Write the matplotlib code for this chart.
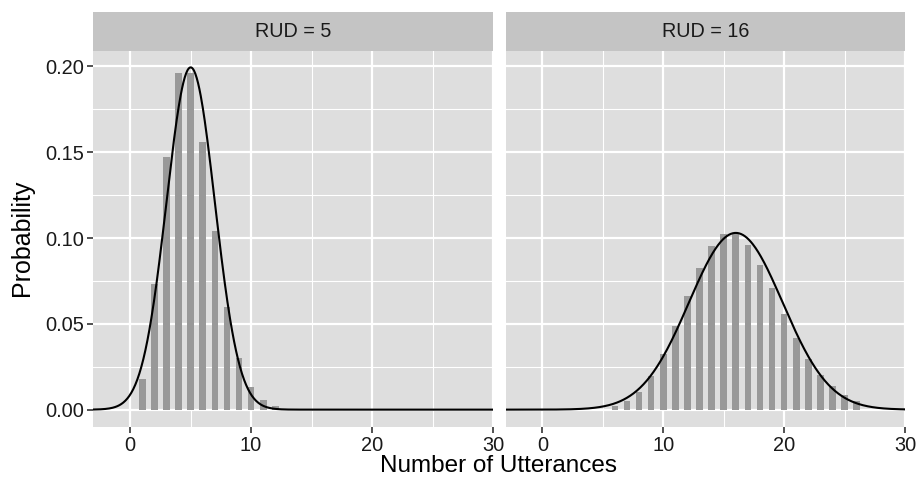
import numpy as np
import matplotlib
matplotlib.use("Agg")
import matplotlib.pyplot as plt
from matplotlib.ticker import MultipleLocator

plt.rcParams['font.family'] = ['Liberation Sans', 'DejaVu Sans']

# ---- data ----
panel_labels = ["RUD = 5", "RUD = 16"]
bars_x_5 = [1, 2, 3, 4, 5, 6, 7, 8, 9, 10, 11, 12]
bars_y_5 = [0.018, 0.073, 0.147, 0.196, 0.196, 0.156, 0.104, 0.060, 0.030, 0.013, 0.0055, 0.002]
bars_x_16 = [6, 7, 8, 9, 10, 11, 12, 13, 14, 15, 16, 17, 18, 19, 20, 21, 22, 23, 24, 25, 26]
bars_y_16 = [0.0019, 0.0048, 0.0105, 0.0194, 0.0325, 0.0486, 0.0663, 0.0826, 0.0954, 0.1022,
             0.1022, 0.0960, 0.0845, 0.0706, 0.0556, 0.0418, 0.0297, 0.0204, 0.0136, 0.0083, 0.0048]
curve_means = [5.0, 16.0]
curve_sds = [2.0, 3.873]
x_ticks = [0, 10, 20, 30]
y_ticks = [0.00, 0.05, 0.10, 0.15, 0.20]
y_tick_labels = ["0.00", "0.05", "0.10", "0.15", "0.20"]

bars_x = [bars_x_5, bars_x_16]
bars_y = [bars_y_5, bars_y_16]

W, H = 916, 484
fig = plt.figure(figsize=(W / 100, H / 100), dpi=100)

panel_bg = "#DEDEDE"
strip_bg = "#C4C4C4"
bar_col = "#999999"
txt_col = "#1a1a1a"

xlim = (-3.05, 30.0)
ylim = (-0.00995, 0.2092)

panels = [(93.3, 493.0), (505.5, 905.0)]
py0, py1 = 426.7, 50.7
sy0, sy1 = 50.7, 11.7

xs = np.linspace(xlim[0], xlim[1], 600)

for i, (px0, px1) in enumerate(panels):
    ax = fig.add_axes([px0 / W, 1 - py0 / H, (px1 - px0) / W, (py0 - py1) / H])
    ax.set_facecolor(panel_bg)
    ax.set_xlim(*xlim)
    ax.set_ylim(*ylim)
    ax.xaxis.set_major_locator(MultipleLocator(10))
    ax.xaxis.set_minor_locator(MultipleLocator(5))
    ax.yaxis.set_major_locator(MultipleLocator(0.05))
    ax.yaxis.set_minor_locator(MultipleLocator(0.025))
    ax.grid(which='major', color='white', linewidth=1.6)
    ax.grid(which='minor', color='white', linewidth=0.8)
    ax.set_axisbelow(True)
    for s in ax.spines.values():
        s.set_visible(False)
    ax.bar(bars_x[i], bars_y[i], width=0.55, color=bar_col, zorder=2)
    m, sd = curve_means[i], curve_sds[i]
    dens = np.exp(-0.5 * ((xs - m) / sd) ** 2) / (sd * np.sqrt(2 * np.pi))
    ax.plot(xs, dens, color='black', linewidth=1.5, zorder=3)
    ax.set_xticks(x_ticks)
    ax.set_xticklabels([str(t) for t in x_ticks])
    ax.tick_params(axis='both', which='major', length=4, width=1.2, color='#333333',
                   labelsize=14.4, labelcolor=txt_col, pad=2.5)
    ax.tick_params(which='minor', length=0)
    if i == 0:
        ax.set_yticks(y_ticks)
        ax.set_yticklabels(y_tick_labels)
    else:
        ax.tick_params(axis='y', which='both', left=False, labelleft=False)

    sax = fig.add_axes([px0 / W, 1 - sy0 / H, (px1 - px0) / W, (sy0 - sy1) / H])
    sax.set_facecolor(strip_bg)
    sax.set_xticks([])
    sax.set_yticks([])
    for s in sax.spines.values():
        s.set_visible(False)
    sax.text(0.5, 0.5, panel_labels[i], ha='center', va='center', fontsize=14.2,
             color=txt_col, transform=sax.transAxes)

fig.text(499 / W, 1 - 466 / H, "Number of Utterances", ha='center', va='center',
         fontsize=17.5, color='black')
fig.text(22 / W, 1 - 238 / H, "Probability", ha='center', va='center',
         fontsize=18, color='black', rotation=90)

fig.savefig("out.png", dpi=100, facecolor='white')
